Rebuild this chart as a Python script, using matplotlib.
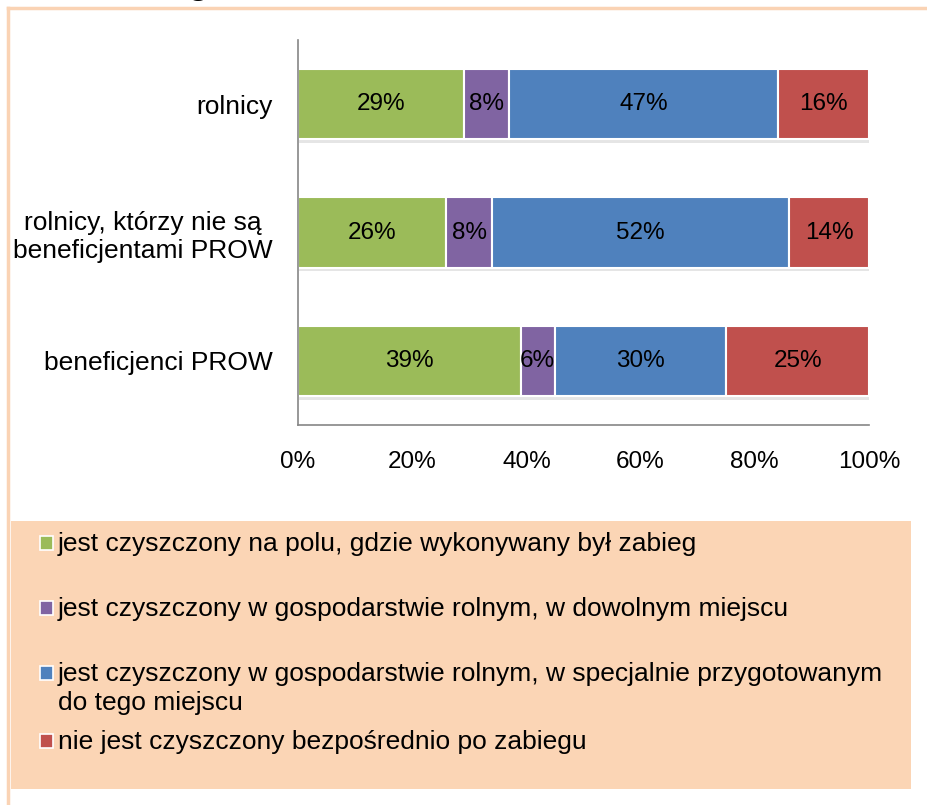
import matplotlib.pyplot as plt
import matplotlib.patheffects as pe
from matplotlib.patches import Rectangle
from matplotlib.lines import Line2D

plt.rcParams['font.family'] = ['Liberation Sans', 'DejaVu Sans']

# data (top row first)
categories = ['rolnicy', 'rolnicy, którzy nie są\nbeneficjentami PROW', 'beneficjenci PROW']
series = [
    'jest czyszczony na polu, gdzie wykonywany był zabieg',
    'jest czyszczony w gospodarstwie rolnym, w dowolnym miejscu',
    'jest czyszczony w gospodarstwie rolnym, w specjalnie przygotowanym\ndo tego miejscu',
    'nie jest czyszczony bezpośrednio po zabiegu',
]
values = [
    [29, 26, 39],
    [8, 8, 6],
    [47, 52, 30],
    [16, 14, 25],
]
colors = ['#9BBB59', '#8064A2', '#4F81BD', '#C0504D']
xticks = [0, 20, 40, 60, 80, 100]

fig = plt.figure(figsize=(9.28, 8.05), dpi=100)

# orange frame around the slide area
fig.add_artist(Line2D([0.0086, 1.0], [0.990, 0.990], color='#FAD3B4', lw=2.5))
fig.add_artist(Line2D([0.0086, 0.0086], [0.0, 0.990], color='#FAD3B4', lw=2.5))

# title cut off by the top edge, only the descender shows
fig.text(0.213, 1.010, 'g', fontsize=30, ha='center', va='baseline')

ax = fig.add_axes([0.3211, 0.472, 0.6153, 0.4783])

ypos = [2, 1, 0]
left = [0, 0, 0]
shadow = [pe.SimplePatchShadow(offset=(1, -2.5), shadow_rgbFace='#8c8c8c', alpha=0.22), pe.Normal()]
for vals, col in zip(values, colors):
    bars = ax.barh(ypos, vals, left=left, height=0.55, color=col,
                   edgecolor='white', linewidth=1.5)
    for b in bars:
        b.set_path_effects(shadow)
    for y, v, l in zip(ypos, vals, left):
        ax.text(l + v / 2, y, f'{v}%', ha='center', va='center', fontsize=17.5)
    left = [l + v for l, v in zip(left, vals)]

ax.set_xlim(0, 100)
ax.set_ylim(-0.5, 2.5)
ax.set_xticks(xticks)
ax.set_xticklabels([f'{t}%' for t in xticks], fontsize=17.5)
ax.set_yticks(ypos)
ax.set_yticklabels(categories, fontsize=19, multialignment='center')
ax.tick_params(axis='x', length=0, pad=19)
ax.tick_params(axis='y', length=0, pad=18)
for s in ['top', 'right']:
    ax.spines[s].set_visible(False)
for s in ['left', 'bottom']:
    ax.spines[s].set_color('#868686')
    ax.spines[s].set_linewidth(1.2)

# legend box
fig.add_artist(Rectangle((0.0119, 0.0199), 0.970, 0.333, transform=fig.transFigure,
                         facecolor='#FBD5B5', edgecolor='none'))
W, H = 928.0, 805.0
for i, (lab, col) in enumerate(zip(series, colors)):
    yc = 543 + 65 * i + (3 if i == 3 else 0)
    fig.add_artist(Rectangle((40 / W, 1 - (yc + 7) / H), 13 / W, 14 / H,
                             transform=fig.transFigure, facecolor=col,
                             edgecolor='white', linewidth=1.2))
    fig.text(58 / W, 1 - (yc - 11) / H, lab, fontsize=19, ha='left', va='top',
             linespacing=1.25)

plt.savefig('out.png', dpi=100)
